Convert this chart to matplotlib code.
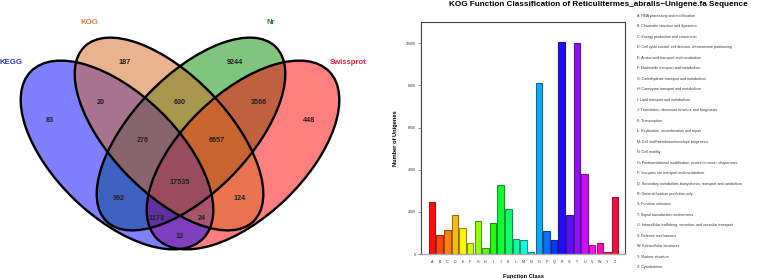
import numpy as np
import matplotlib.pyplot as plt
from matplotlib.patches import Ellipse
from matplotlib.colors import hsv_to_rgb

plt.rcParams['font.family'] = ['Liberation Sans', 'DejaVu Sans']

# ---- Venn data ----
set_names = ['KEGG', 'KOG', 'Nr', 'Swissprot']
set_colors = ['blue', 'chocolate', '#008b00', 'red']
name_colors = ['#3030e0', '#e07a40', '#2a8a2a', '#f02040']
venn_counts = [187, 9244, 20, 630, 3566, 83, 448, 276, 6657, 17535, 992, 124, 1173, 24, 13]

# ---- KOG bar data ----
kog_classes = ['A', 'B', 'C', 'D', 'E', 'F', 'G', 'H', 'I', 'J', 'K', 'L', 'M', 'N', 'O',
               'P', 'Q', 'R', 'S', 'T', 'U', 'V', 'W', 'Y', 'Z']
kog_counts = [2480, 900, 1140, 1850, 1250, 540, 1570, 270, 1490, 3270, 2120, 700, 660, 80,
              8130, 1090, 660, 10060, 1850, 10020, 3780, 430, 540, 110, 2690]
kog_desc = [
    'RNA processing and modification',
    'Chromatin structure and dynamics',
    'Energy production and conversion',
    'Cell cycle control, cell division, chromosome partitioning',
    'Amino acid transport and metabolism',
    'Nucleotide transport and metabolism',
    'Carbohydrate transport and metabolism',
    'Coenzyme transport and metabolism',
    'Lipid transport and metabolism',
    'Translation, ribosomal structure and biogenesis',
    'Transcription',
    'Replication, recombination and repair',
    'Cell wall/membrane/envelope biogenesis',
    'Cell motility',
    'Posttranslational modification, protein turnover, chaperones',
    'Inorganic ion transport and metabolism',
    'Secondary metabolites biosynthesis, transport and catabolism',
    'General function prediction only',
    'Function unknown',
    'Signal transduction mechanisms',
    'Intracellular trafficking, secretion, and vesicular transport',
    'Defense mechanisms',
    'Extracellular structures',
    'Nuclear structure',
    'Cytoskeleton',
]

fig = plt.figure(figsize=(7.78, 2.79), dpi=100)

# ---------------- Venn (pixel coordinates) ----------------
vax = fig.add_axes([0, 0, 390 / 778, 1])
vax.set_xlim(0, 390)
vax.set_ylim(279, 0)
vax.axis('off')

# ellipse geometry: center, width, height, angle (pixels)
ell = {
    'KEGG': ((117, 155), 240, 123, 44),
    'KOG': ((169, 134), 243, 117, 46),
    'Nr': ((191, 134), 243, 117, -46),
    'Swissprot': ((243, 155), 240, 123, -44),
}
for name in ['Nr', 'Swissprot', 'KEGG', 'KOG']:
    c, w, h, a = ell[name]
    col = set_colors[set_names.index(name)]
    vax.add_patch(Ellipse(c, w, h, angle=a, fc=col, alpha=0.5, ec='none'))
for name in set_names:
    c, w, h, a = ell[name]
    vax.add_patch(Ellipse(c, w, h, angle=a, fc='none', ec='black', lw=1.7))

name_pos = [(11, 63), (89, 23), (271, 23), (348, 63)]
for nm, col, (x, y) in zip(set_names, name_colors, name_pos):
    vax.text(x, y, nm, color=col, fontsize=5.6, fontweight='bold', ha='center', va='center')

count_pos = [(125, 62), (235, 62), (101, 102), (180, 102), (259, 102), (50, 121), (309, 121),
             (143, 140), (217, 140), (180, 183), (119, 198), (240, 198), (156, 218), (202, 218),
             (180, 237)]
for n, (x, y) in zip(venn_counts, count_pos):
    vax.text(x, y, str(n), fontsize=5.2, fontweight='bold', color='#222222',
             ha='center', va='center')

# ---------------- KOG bar chart ----------------
ax = fig.add_axes([421 / 778, 25 / 279, 204 / 778, 232 / 279])
n = len(kog_classes)
hues = np.arange(n) / n
fill = [hsv_to_rgb((h, 1, 1)) for h in hues]
edge = [hsv_to_rgb((h, 0.9, 0.55)) for h in hues]
xpos = np.arange(n)
ax.bar(xpos, kog_counts, width=0.86, color=fill, edgecolor=edge, linewidth=0.8, alpha=0.95)
ax.set_xlim(-1.45, n - 1 + 1.3)
ax.set_ylim(0, 11010)
ax.set_yticks(np.arange(0, 10001, 2000))
ax.set_xticks(xpos)
ax.set_xticklabels(kog_classes)
ax.tick_params(axis='x', length=0, pad=4.5, labelsize=2.6, labelcolor='#333333')
ax.tick_params(axis='y', length=2.2, width=0.5, color='#666666', pad=1.5,
               labelsize=2.5, labelcolor='#333333')
for s in ['left', 'top', 'right']:
    ax.spines[s].set_linewidth(0.8)
    ax.spines[s].set_color('#444444')
ax.spines['bottom'].set_color('#aaaaaa')
ax.spines['bottom'].set_linewidth(1.0)
ax.set_ylabel('Number of Unigenes', fontsize=4.1, fontweight='bold', labelpad=6)
ax.set_xlabel('Function Class', fontsize=4.1, fontweight='bold', labelpad=7)

fig.text(598 / 778, 1 - 5 / 279,
         'KOG Function Classification of Reticulitermes_abralis\u2212Unigene.fa Sequence',
         fontsize=5.9, fontweight='bold', ha='center', va='center')

for i, (k, d) in enumerate(zip(kog_classes, kog_desc)):
    fig.text(637 / 778, 1 - (16 + i * 10.47) / 279, f'{k}: {d}',
             fontsize=2.6, color='#333333', ha='left', va='center')

fig.savefig('out.png')
